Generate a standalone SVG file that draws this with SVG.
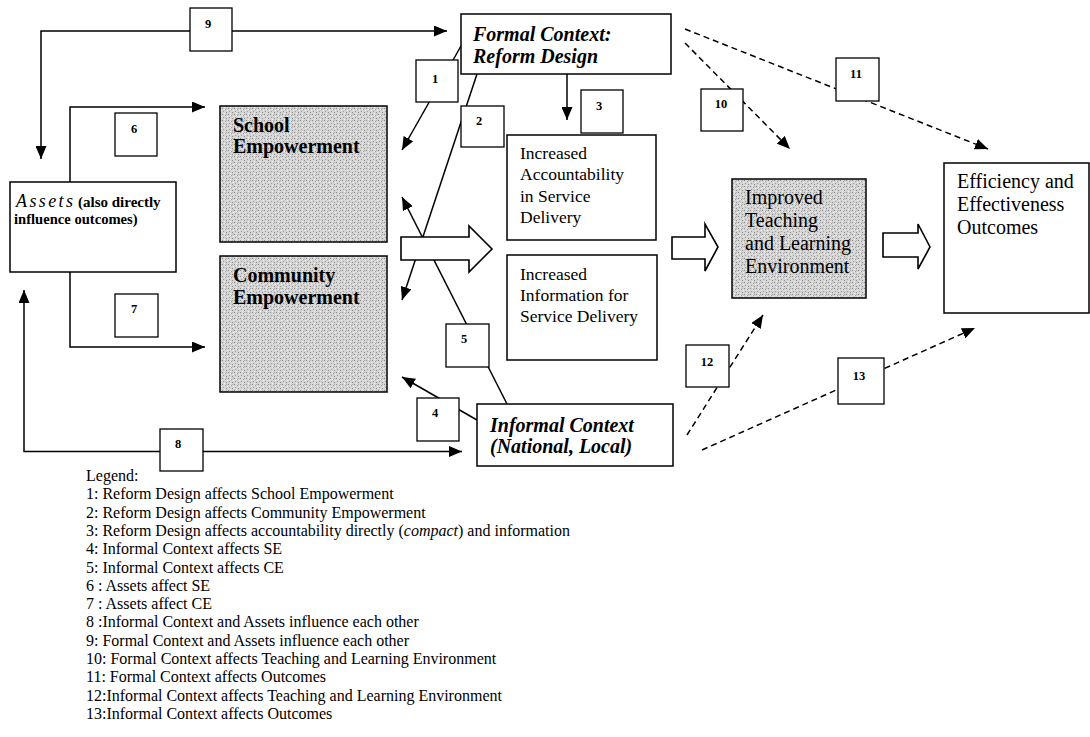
<svg xmlns="http://www.w3.org/2000/svg" width="1090" height="737" viewBox="0 0 1090 737">
<style>
  .box{fill:#fff;stroke:#000;stroke-width:1.5}
  .gray{fill:url(#stip);stroke:#000;stroke-width:1.5}
  .lbl{fill:#fff;stroke:#000;stroke-width:1.3}
  .ln{fill:none;stroke:#000;stroke-width:1.5}
  .dash{fill:none;stroke:#000;stroke-width:1.5;stroke-dasharray:6 4}
  .blk{fill:#fff;stroke:#000;stroke-width:1.6;stroke-linejoin:miter}
  text{font-family:"Liberation Serif","Times New Roman",serif;fill:#000}
  .num{font-size:12.5px;font-weight:bold;text-anchor:middle}
  .bi{font-size:20px;font-weight:bold;font-style:italic}
  .b20{font-size:20px;font-weight:bold}
  .r17{font-size:17.5px}
  .r20{font-size:20px}
  .leg{font-size:16px}
</style>
<defs>
  <pattern id="stip" width="6" height="6" patternUnits="userSpaceOnUse">
    <rect width="6" height="6" fill="#d4d4d4"/>
    <rect x="0" y="0" width="1" height="1" fill="#8c8c8c"/>
    <rect x="3" y="1" width="1" height="1" fill="#9c9c9c"/>
    <rect x="1" y="3" width="1" height="1" fill="#a0a0a0"/>
    <rect x="4" y="4" width="1" height="1" fill="#909090"/>
    <rect x="5" y="2" width="1" height="1" fill="#f2f2f2"/>
    <rect x="2" y="5" width="1" height="1" fill="#f2f2f2"/>
    <rect x="2" y="1" width="1" height="1" fill="#ececec"/>
    <rect x="4" y="0" width="1" height="1" fill="#b0b0b0"/>
  </pattern>
  <marker id="ah" viewBox="0 0 13 11" refX="13" refY="5.5" markerWidth="13" markerHeight="11" markerUnits="userSpaceOnUse" orient="auto-start-reverse">
    <path d="M0,0 L13,5.5 L0,11 z" fill="#000"/>
  </marker>
</defs>

<g id="connectors">
  <path class="ln" d="M41,159 L41,31 L447,31" marker-start="url(#ah)" marker-end="url(#ah)"/>
  <path class="ln" d="M24,290 L24,451.5 L462,451.5" marker-start="url(#ah)" marker-end="url(#ah)"/>
  <path class="ln" d="M70,182 L70,107 L205,107" marker-end="url(#ah)"/>
  <path class="ln" d="M70,272 L70,347 L205,347" marker-end="url(#ah)"/>
  <path class="ln" d="M567,74 L567,120" marker-end="url(#ah)"/>
  <path class="ln" d="M461,46 L402,150" marker-end="url(#ah)"/>
  <path class="ln" d="M477,74 L402,300" marker-end="url(#ah)"/>
  <path class="ln" d="M477,420 L402,377" marker-end="url(#ah)"/>
  <path class="ln" d="M507,404 L402,197" marker-end="url(#ah)"/>
  <path class="dash" d="M685,43 L790,149" marker-end="url(#ah)"/>
  <path class="dash" d="M685,29 L988,149" marker-end="url(#ah)"/>
  <path class="dash" d="M687,435 L763,315" marker-end="url(#ah)"/>
  <path class="dash" d="M702,450 L975,328" marker-end="url(#ah)"/>
  <polygon class="blk" points="401,237 469,237 469,226 492,249 469,272 469,260 401,260"/>
  <polygon class="blk" points="672,237 705,237 705,224 718,247 705,271 705,259 672,259"/>
  <polygon class="blk" points="883,233 918,233 918,224 930,247 918,269 918,257 883,257"/>
</g>

<g id="formal-context">
  <rect class="box" x="461" y="14" width="210" height="60"/>
  <text class="bi" x="473" y="41">Formal Context:</text>
  <text class="bi" x="473" y="63">Reform Design</text>
</g>
<g id="assets">
  <rect class="box" x="10" y="182" width="166" height="90"/>
  <text x="16" y="207"><tspan font-size="18" font-style="italic" textLength="57" lengthAdjust="spacing">Assets</tspan><tspan font-size="15" font-weight="bold" x="78">(also directly</tspan></text>
  <text x="14" y="224" font-size="14.6" font-weight="bold">influence outcomes)</text>
</g>
<g id="school-empowerment">
  <rect class="gray" x="220" y="106" width="167" height="136"/>
  <text class="b20" x="233" y="132">School</text>
  <text class="b20" x="233" y="153">Empowerment</text>
</g>
<g id="community-empowerment">
  <rect class="gray" x="220" y="256" width="167" height="136"/>
  <text class="b20" x="233" y="282">Community</text>
  <text class="b20" x="233" y="304">Empowerment</text>
</g>
<g id="accountability">
  <rect class="box" x="507" y="135" width="149" height="105"/>
  <text class="r17" x="520" y="159">Increased</text>
  <text class="r17" x="520" y="180">Accountability</text>
  <text class="r17" x="520" y="202">in Service</text>
  <text class="r17" x="520" y="223">Delivery</text>
</g>
<g id="information">
  <rect class="box" x="507" y="255" width="150" height="105"/>
  <text class="r17" x="520" y="280">Increased</text>
  <text class="r17" x="520" y="301">Information for</text>
  <text class="r17" x="520" y="322">Service Delivery</text>
</g>
<g id="teaching-learning">
  <rect class="gray" x="732" y="179" width="134" height="119"/>
  <text class="r20" x="745" y="204">Improved</text>
  <text class="r20" x="745" y="227">Teaching</text>
  <text class="r20" x="745" y="250">and Learning</text>
  <text class="r20" x="745" y="273">Environment</text>
</g>
<g id="outcomes">
  <rect class="box" x="944" y="163" width="145" height="150"/>
  <text class="r20" x="957" y="188">Efficiency and</text>
  <text class="r20" x="957" y="211">Effectiveness</text>
  <text class="r20" x="957" y="234">Outcomes</text>
</g>
<g id="informal-context">
  <rect class="box" x="477" y="404" width="196" height="62"/>
  <text class="bi" x="490" y="432">Informal Context</text>
  <text class="bi" x="490" y="453">(National, Local)</text>
</g>

<g id="label-1"><rect class="lbl" x="416" y="60" width="42" height="42"/><text class="num" x="435" y="83">1</text></g>
<g id="label-2"><rect class="lbl" x="461" y="106" width="43" height="41"/><text class="num" x="479" y="125">2</text></g>
<g id="label-3"><rect class="lbl" x="581" y="90" width="42" height="43"/><text class="num" x="599" y="110">3</text></g>
<g id="label-4"><rect class="lbl" x="417" y="398" width="42" height="43"/><text class="num" x="435" y="417">4</text></g>
<g id="label-5"><rect class="lbl" x="446" y="324" width="43" height="43"/><text class="num" x="464" y="343">5</text></g>
<g id="label-6"><rect class="lbl" x="115" y="113" width="42" height="43"/><text class="num" x="134" y="133">6</text></g>
<g id="label-7"><rect class="lbl" x="115" y="294" width="43" height="43"/><text class="num" x="134" y="313">7</text></g>
<g id="label-8"><rect class="lbl" x="160" y="429" width="43" height="42"/><text class="num" x="178" y="448">8</text></g>
<g id="label-9"><rect class="lbl" x="190" y="8" width="42" height="43"/><text class="num" x="208" y="28">9</text></g>
<g id="label-10"><rect class="lbl" x="701" y="89" width="42" height="42"/><text class="num" x="721" y="108">10</text></g>
<g id="label-11"><rect class="lbl" x="836" y="58" width="43" height="43"/><text class="num" x="856" y="78">11</text></g>
<g id="label-12"><rect class="lbl" x="686" y="345" width="43" height="42"/><text class="num" x="707" y="366">12</text></g>
<g id="label-13"><rect class="lbl" x="838" y="358" width="46" height="46"/><text class="num" x="859" y="380">13</text></g>

<g id="legend" class="leg">
  <text class="leg" x="86" y="481">Legend:</text>
  <text class="leg" x="86" y="499.3">1: Reform Design affects School Empowerment</text>
  <text class="leg" x="86" y="517.6">2: Reform Design affects Community Empowerment</text>
  <text class="leg" x="86" y="535.9">3: Reform Design affects accountability directly (<tspan font-style="italic">compact</tspan>) and information</text>
  <text class="leg" x="86" y="554.2">4: Informal Context affects SE</text>
  <text class="leg" x="86" y="572.5">5: Informal Context affects CE</text>
  <text class="leg" x="86" y="590.8">6 : Assets affect SE</text>
  <text class="leg" x="86" y="609.1">7 : Assets affect CE</text>
  <text class="leg" x="86" y="627.4">8 :Informal Context and Assets influence each other</text>
  <text class="leg" x="86" y="645.7">9: Formal Context and Assets influence each other</text>
  <text class="leg" x="86" y="664">10: Formal Context affects Teaching and Learning Environment</text>
  <text class="leg" x="86" y="682.3">11: Formal Context affects Outcomes</text>
  <text class="leg" x="86" y="700.6">12:Informal Context affects Teaching and Learning Environment</text>
  <text class="leg" x="86" y="718.9">13:Informal Context affects Outcomes</text>
</g>
</svg>
